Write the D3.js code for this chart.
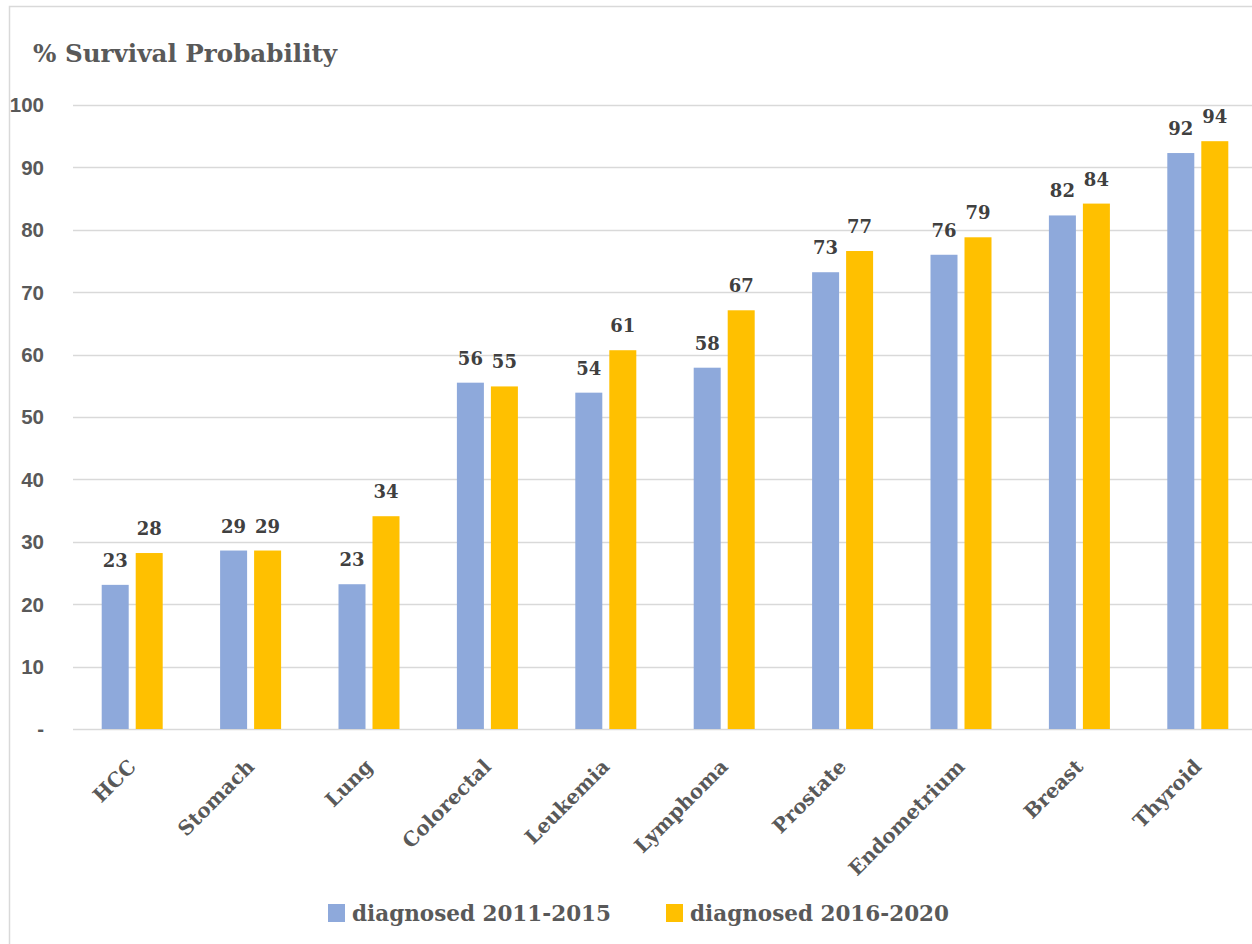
<!DOCTYPE html>
<html><head><meta charset="utf-8">
<script src="https://cdn.jsdelivr.net/npm/d3@7"></script>
<style>body{margin:0;background:#fff}svg{display:block}</style>
</head><body>
<script>
const categories = ["HCC","Stomach","Lung","Colorectal","Leukemia","Lymphoma","Prostate","Endometrium","Breast","Thyroid"];
const series2011 = [23.1,28.6,23.2,55.5,53.9,57.9,73.2,76.0,82.3,92.3];
const series2016 = [28.2,28.6,34.1,54.9,60.7,67.1,76.6,78.8,84.2,94.2];
const seriesNames = ["diagnosed 2011-2015","diagnosed 2016-2020"];
const yTicks = [0,10,20,30,40,50,60,70,80,90,100];
const colors = ["#8EA9DB","#FFC000"];

const W=1252,H=944;
const serif = "'DejaVu Serif',serif";
const sans = "'Liberation Sans','DejaVu Sans',sans-serif";
const svg = d3.select("body").append("svg").attr("width",W).attr("height",H);
svg.append("rect").attr("x",9.5).attr("y",6.5).attr("width",W+10).attr("height",H+10).attr("fill","#fff").attr("stroke","#d9d9d9").attr("stroke-width",1.5);

const x = d3.scaleBand().domain(categories).range([73,1257]);
const y = d3.scaleLinear().domain([0,100]).range([729,105]);
const pad = (x.bandwidth()-61)/2;
const inner = d3.scaleBand().domain([0,1]).range([pad,pad+61]).paddingInner(7/34).paddingOuter(0);

svg.append("g").selectAll("line").data(yTicks).join("line")
  .attr("x1",73).attr("x2",W).attr("y1",d=>Math.round(y(d))+0.5).attr("y2",d=>Math.round(y(d))+0.5)
  .attr("stroke","#d9d9d9").attr("stroke-width",1.5);
svg.append("g").selectAll("text").data(yTicks).join("text")
  .attr("x",44).attr("y",d=>y(d)).attr("dy","0.36em").attr("text-anchor","end")
  .attr("font-family",sans).attr("font-weight","bold").attr("font-size",20.5).attr("fill","#595959")
  .text(d=>d===0?"-":d);

svg.append("text").attr("x",33).attr("y",62).attr("font-family",serif).attr("font-weight","bold")
  .attr("font-size",24.6).attr("fill","#595959").text("% Survival Probability");

const data = [series2011, series2016];
data.forEach((s,si)=>{
  const g = svg.append("g");
  g.selectAll("rect").data(categories).join("rect")
    .attr("x",(c)=>x(c)+inner(si)).attr("width",inner.bandwidth())
    .attr("y",(c,i)=>y(s[i])).attr("height",(c,i)=>y(0)-y(s[i]))
    .attr("fill",colors[si]);
  g.selectAll("text").data(categories).join("text")
    .attr("x",(c)=>x(c)+inner(si)+inner.bandwidth()/2).attr("y",(c,i)=>y(s[i])-18)
    .attr("text-anchor","middle").attr("font-family",serif).attr("font-weight","bold")
    .attr("font-size",18).attr("fill","#404040").text((c,i)=>Math.round(s[i]));
});

svg.append("g").selectAll("text").data(categories).join("text")
  .attr("transform",c=>`translate(${x(c)+x.bandwidth()/2},${763}) rotate(-45)`)
  .attr("text-anchor","end").attr("dy","0.35em")
  .attr("font-family",serif).attr("font-weight","bold").attr("font-size",20).attr("fill","#595959")
  .text(c=>c);

const leg = svg.append("g");
const legX = [328,666];
seriesNames.forEach((n,i)=>{
  leg.append("rect").attr("x",legX[i]).attr("y",904).attr("width",17).attr("height",18).attr("fill",colors[i]);
  leg.append("text").attr("x",legX[i]+24).attr("y",921).attr("font-family",serif).attr("font-weight","bold")
    .attr("font-size",21.5).attr("fill","#595959").text(n);
});
</script>
</body></html>
